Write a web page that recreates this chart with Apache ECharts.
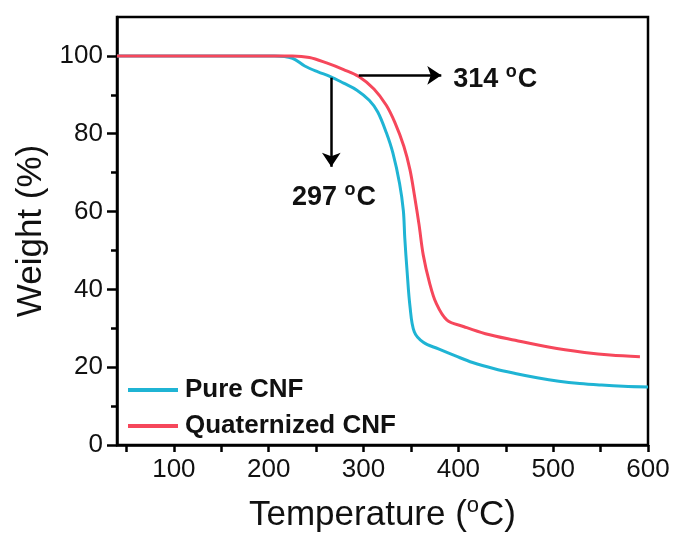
<!DOCTYPE html>
<html>
<head>
<meta charset="utf-8">
<script src="https://cdn.jsdelivr.net/npm/echarts@6/dist/echarts.min.js"></script>
<style>
html,body{margin:0;padding:0;background:#fff;}
#chart{width:673px;height:534px;}
</style>
</head>
<body>
<div id="chart"></div>
<script>
// ---- data ----
const pureTemp   = [40, 206, 225, 238, 252, 265, 279, 293, 306, 315, 324, 331, 338, 342, 343.5, 346, 349, 353.5, 363, 379, 397, 415, 438, 460, 483, 506, 528, 551, 574, 600];
const pureWeight = [100, 100, 99.4, 97.4, 95.9, 94.7, 93, 91.2, 88.6, 85.6, 80.3, 75, 67.2, 60.2, 53.2, 44.4, 35.6, 29.1, 26.4, 24.7, 22.9, 21.2, 19.6, 18.4, 17.3, 16.4, 15.8, 15.4, 15.1, 14.9];
const quatTemp   = [40, 225, 243, 261, 279, 295, 311, 324, 333, 342.5, 349, 354, 358.5, 363, 369.5, 376.5, 388, 406, 428.5, 460, 496.5, 533, 560, 591.5];
const quatWeight = [100, 100, 99.6, 98.2, 96.5, 94.7, 91.5, 87.3, 82.9, 76.8, 70.7, 63.7, 56.7, 48.8, 41.8, 36.5, 32.1, 30.4, 28.6, 26.9, 25.1, 23.8, 23.1, 22.7];
const seriesNames = ['Pure CNF', 'Quaternized CNF'];
const xMajorTicks = [100, 200, 300, 400, 500, 600];
const xMinorTicks = [50, 150, 250, 350, 450, 550];
const yMajorTicks = [0, 20, 40, 60, 80, 100];
const yMinorTicks = [10, 30, 50, 70, 90];
// annotations (data units)
const onsetPure = 297, onsetQuat = 314;
const arrowPure = [[266, 94.4], [266, 71.5]];
const arrowQuat = [[295, 95], [382, 95]];
const labelPurePos = [224, 64];
const labelQuatPos = [394, 94.4];

const FONT = '"Liberation Sans", Arial, sans-serif';
const cyan = '#1fb4d4';
const red = '#f6475b';

function zip(a, b) { return a.map((v, i) => [v, b[i]]); }

const supRich = {
  b: { fontFamily: FONT, fontSize: 27, fontWeight: 'bold', color: '#111', lineHeight: 30, verticalAlign: 'bottom' },
  s: { fontFamily: FONT, fontSize: 18, fontWeight: 'bold', color: '#111', lineHeight: 16, verticalAlign: 'top', padding: [0, 1, 0, 0] }
};

const chart = echarts.init(document.getElementById('chart'), null, { renderer: 'canvas' });
chart.setOption({
  animation: false,
  backgroundColor: '#fff',
  grid: { left: 117, right: 25, top: 17, bottom: 89, show: true, borderColor: '#000', borderWidth: 2.5, backgroundColor: 'transparent', containLabel: false, outerBoundsMode: 'none' },
  legend: {
    orient: 'vertical', left: 123, top: 372,
    itemWidth: 50, itemHeight: 4, itemGap: 10,
    icon: 'rect',
    textStyle: { fontFamily: FONT, fontSize: 26, fontWeight: 'bold', color: '#111', padding: [0, 0, 0, 2] },
    data: seriesNames
  },
  xAxis: [
    {
      type: 'value', min: 40, max: 600, position: 'bottom',
      name: '{t|Temperature (}{s|o}{t|C)}', nameLocation: 'middle', nameGap: 50,
      nameTextStyle: { fontFamily: FONT, fontSize: 35, color: '#111',
        rich: {
          t: { fontFamily: FONT, fontSize: 35, color: '#111', lineHeight: 38, verticalAlign: 'bottom' },
          s: { fontFamily: FONT, fontSize: 22, color: '#111', lineHeight: 20, verticalAlign: 'top' }
        } },
      axisLine: { show: true, lineStyle: { color: '#000', width: 2.5 } },
      axisTick: { show: true, inside: false, length: 7, customValues: xMajorTicks, lineStyle: { color: '#000', width: 2.5 } },
      axisLabel: { customValues: xMajorTicks, margin: 12, fontFamily: FONT, fontSize: 26, color: '#111' },
      splitLine: { show: false }
    },
    {
      type: 'value', min: 40, max: 600, position: 'bottom',
      axisLine: { show: false },
      axisTick: { show: true, inside: false, length: 7, customValues: xMinorTicks, lineStyle: { color: '#000', width: 2.5 } },
      axisLabel: { show: false },
      splitLine: { show: false }
    }
  ],
  yAxis: [
    {
      type: 'value', min: 0, max: 110, position: 'left',
      name: 'Weight (%)', nameLocation: 'middle', nameGap: 68,
      nameTextStyle: { fontFamily: FONT, fontSize: 35, color: '#111' },
      axisLine: { show: true, lineStyle: { color: '#000', width: 2.5 } },
      axisTick: { show: true, inside: false, length: 10, customValues: yMajorTicks, lineStyle: { color: '#000', width: 2.5 } },
      axisLabel: { customValues: yMajorTicks, margin: 14, fontFamily: FONT, fontSize: 26, color: '#111' },
      splitLine: { show: false }
    },
    {
      type: 'value', min: 0, max: 110, position: 'left',
      axisLine: { show: false },
      axisTick: { show: true, inside: false, length: 6, customValues: yMinorTicks, lineStyle: { color: '#000', width: 2.5 } },
      axisLabel: { show: false },
      splitLine: { show: false }
    }
  ],
  series: [
    {
      name: seriesNames[0], type: 'line', xAxisIndex: 0, yAxisIndex: 0,
      data: zip(pureTemp, pureWeight), showSymbol: false, smooth: 0.35,
      lineStyle: { color: cyan, width: 3 }, itemStyle: { color: cyan }, z: 3,
      markLine: {
        silent: true, symbol: ['none', 'arrow'], symbolSize: 14,
        lineStyle: { color: '#000', width: 2.5, type: 'solid' }, label: { show: false },
        data: [[{ coord: arrowPure[0] }, { coord: arrowPure[1] }]]
      },
      markPoint: {
        silent: true, symbol: 'circle', symbolSize: 1, itemStyle: { color: 'rgba(0,0,0,0)' },
        label: { show: true, position: 'right', distance: 0, formatter: '{b|' + onsetPure + ' }{s|o}{b|C}', rich: supRich },
        data: [{ coord: labelPurePos }]
      }
    },
    {
      name: seriesNames[1], type: 'line', xAxisIndex: 0, yAxisIndex: 0,
      data: zip(quatTemp, quatWeight), showSymbol: false, smooth: 0.35,
      lineStyle: { color: red, width: 3 }, itemStyle: { color: red }, z: 4,
      markLine: {
        silent: true, symbol: ['none', 'arrow'], symbolSize: 14,
        lineStyle: { color: '#000', width: 2.5, type: 'solid' }, label: { show: false },
        data: [[{ coord: arrowQuat[0] }, { coord: arrowQuat[1] }]]
      },
      markPoint: {
        silent: true, symbol: 'circle', symbolSize: 1, itemStyle: { color: 'rgba(0,0,0,0)' },
        label: { show: true, position: 'right', distance: 0, formatter: '{b|' + onsetQuat + ' }{s|o}{b|C}', rich: supRich },
        data: [{ coord: labelQuatPos }]
      }
    }
  ]
});
</script>
</body>
</html>
